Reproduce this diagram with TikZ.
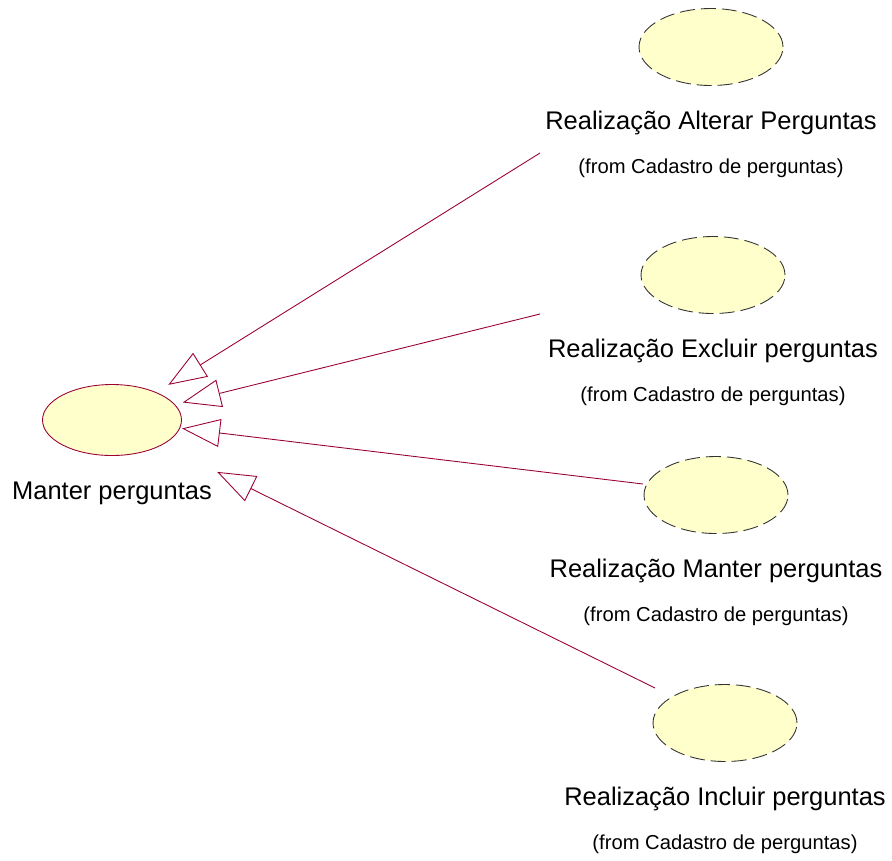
\documentclass[tikz,border=0pt]{standalone}
\usepackage{fontspec}
\setmainfont{Liberation Sans}
\usetikzlibrary{shapes.geometric,arrows.meta,positioning}
\definecolor{roseline}{RGB}{153,0,51}
\definecolor{rosefill}{RGB}{255,255,204}

\tikzset{
  usecase/.style={ellipse, draw=roseline, fill=rosefill, line width=0.5pt,
    minimum width=2.78cm, minimum height=1.42cm, inner sep=0pt},
  realization/.style={ellipse, draw=black!80, fill=rosefill, line width=0.5pt,
    dash pattern=on 0.3cm off 0.12cm, minimum width=2.88cm, minimum height=1.54cm, inner sep=0pt},
  titlelabel/.style={font=\fontsize{14.5}{17}\selectfont, inner sep=0pt},
  fromlabel/.style={font=\fontsize{11.5}{14}\selectfont, inner sep=0pt},
  generalization/.style={draw=roseline, line width=0.5pt, line join=miter,
    -{Triangle[open, length=0.76cm, width=0.56cm]}}
}

\begin{document}
\begin{tikzpicture}[x=0.02cm, y=-0.02cm]
  \useasboundingbox (0,0) rectangle (892,860);

  % Manter perguntas
  \node[usecase] (manter) at (112,420) {};
  \node[titlelabel] (mantertitle) at (112,493) {Manter perguntas};

  % Realizations
  \foreach \id/\x/\y/\title in {alterar/711/47/Realização Alterar Perguntas,
      excluir/713/275/Realização Excluir perguntas,
      mantereal/716/495/Realização Manter perguntas,
      incluir/725/723/Realização Incluir perguntas} {
    \node[realization] (\id) at (\x,\y) {};
    \node[titlelabel] (\id title) at (\x,\y+76) {\title};
    \node[fromlabel] (\id from) at (\x,\y+121) {(from Cadastro de perguntas)};
  }

  % Generalizations
  \coordinate (alterarend) at (540,153);
  \coordinate (excluirend) at (540,314);
  \coordinate (manterealend) at (643,484);
  \coordinate (incluirend) at (655,688);
  \foreach \from/\gap in {alterarend/0.28, excluirend/0.16, manterealend/0.04, incluirend/1.22} {
    \draw[generalization, shorten >=\gap cm] (\from) -- (manter);
  }
\end{tikzpicture}
\end{document}
